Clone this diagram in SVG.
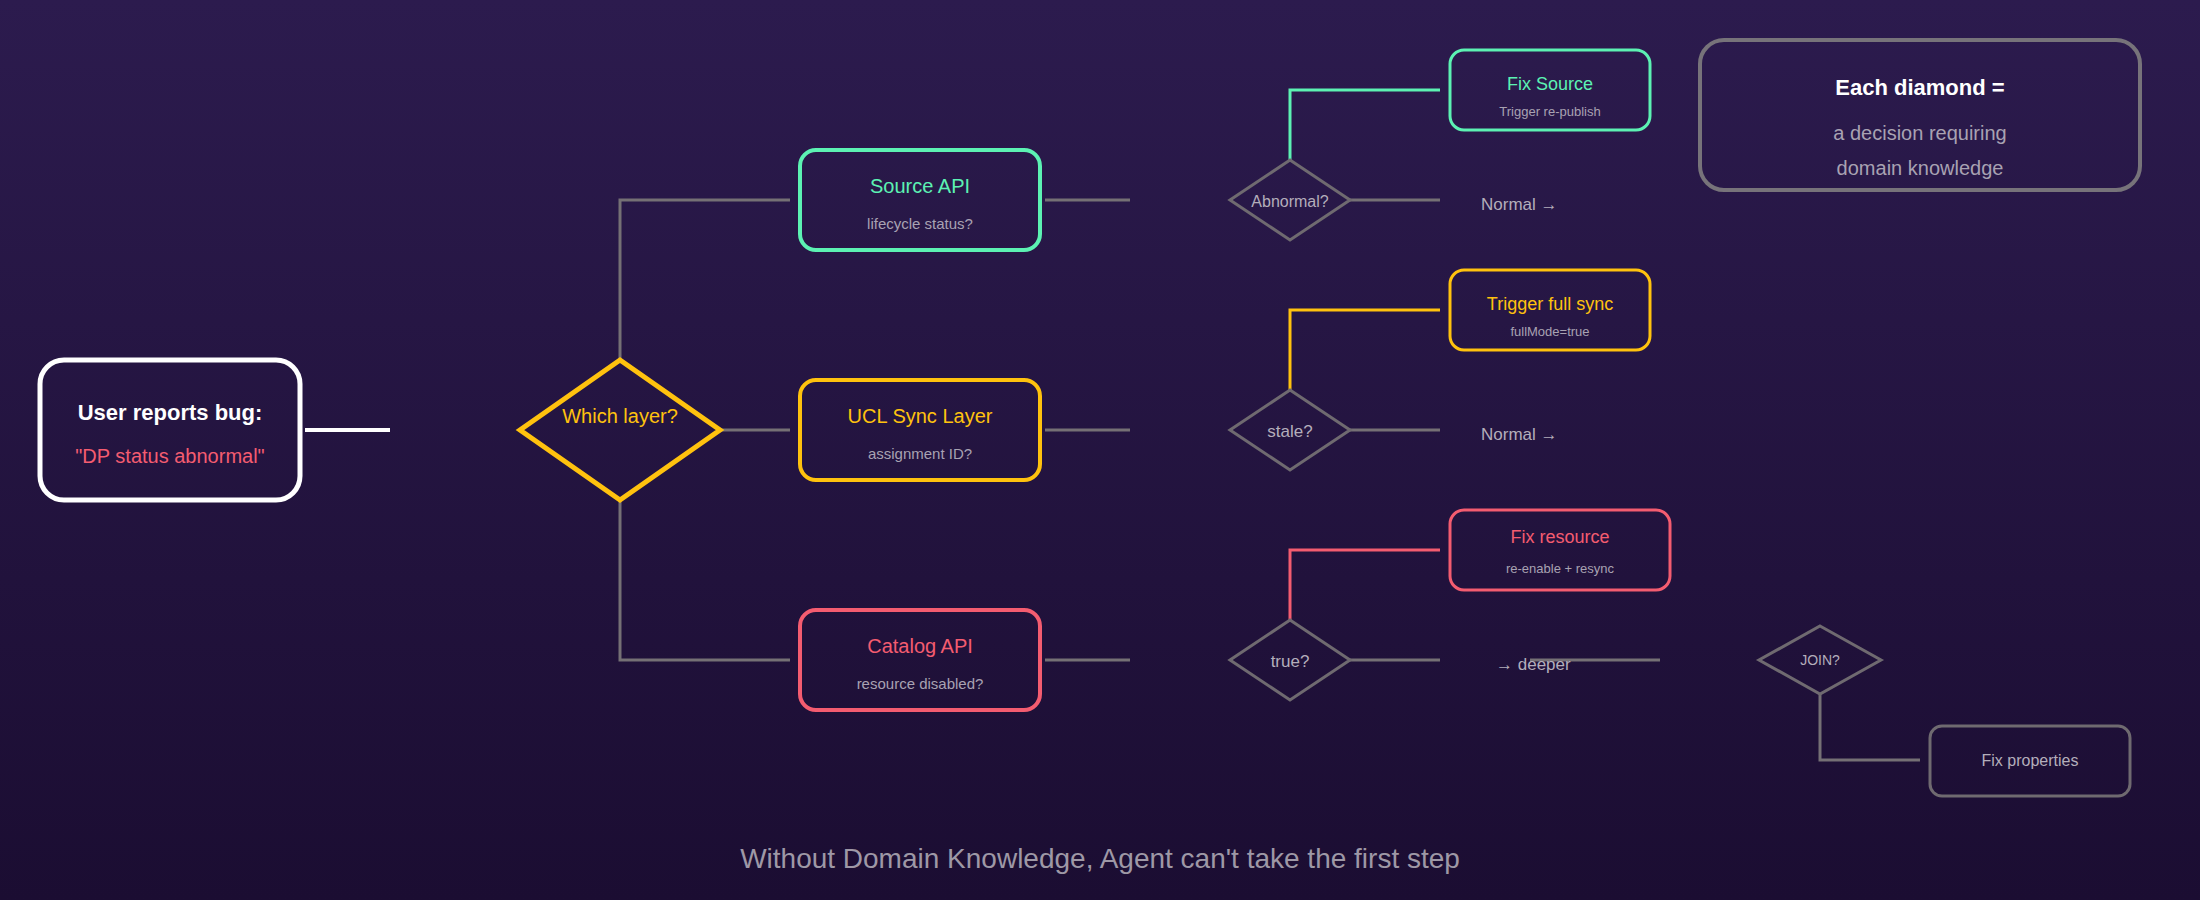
<svg xmlns="http://www.w3.org/2000/svg" width="2200" height="900" viewBox="0 0 2200 900">
<defs>
<linearGradient id="bg" x1="0" y1="0" x2="0" y2="1">
<stop offset="0" stop-color="#2c1b4e"/>
<stop offset="1" stop-color="#1b0d32"/>
</linearGradient>
<style>
text{font-family:"Liberation Sans",Arial,sans-serif;text-anchor:middle}
.box{fill:none;stroke-width:4}
.gl{fill:none;stroke:#757075;stroke-width:3}
.dia{fill:none;stroke:#6f6a70;stroke-width:3}
.sub{fill:#a8a2b2;font-size:15px}
.dt{fill:#b4aebb;font-size:17px}
.green{stroke:#5cf2b3}
.yellow{stroke:#ffc20e}
.red{stroke:#f45c70}
.tg{fill:#5cf2b3}
.ty{fill:#ffc20e}
.tr{fill:#f45c70}
</style>
</defs>
<rect width="2200" height="900" fill="url(#bg)"/>

<g id="connectors">
<line x1="305" y1="430" x2="390" y2="430" stroke="#ffffff" stroke-width="4"/>
<polyline class="gl" points="620,360 620,200 790,200"/>
<line class="gl" x1="720" y1="430" x2="790" y2="430"/>
<polyline class="gl" points="620,500 620,660 790,660"/>
<line class="gl" x1="1045" y1="200" x2="1130" y2="200"/>
<line class="gl" x1="1045" y1="430" x2="1130" y2="430"/>
<line class="gl" x1="1045" y1="660" x2="1130" y2="660"/>
<polyline fill="none" stroke="#5cf2b3" stroke-width="3" points="1290,160 1290,90 1440,90"/>
<polyline fill="none" stroke="#ffc20e" stroke-width="3" points="1290,390 1290,310 1440,310"/>
<polyline fill="none" stroke="#f45c70" stroke-width="3" points="1290,620 1290,550 1440,550"/>
<line class="gl" x1="1350" y1="200" x2="1440" y2="200"/>
<line class="gl" x1="1350" y1="430" x2="1440" y2="430"/>
<line class="gl" x1="1350" y1="660" x2="1440" y2="660"/>
<line class="gl" x1="1530" y1="660" x2="1660" y2="660"/>
<polyline class="gl" points="1820,694 1820,760 1920,760"/>
</g>

<g id="user">
<rect x="40" y="360" width="260" height="140" rx="24" fill="none" stroke="#ffffff" stroke-width="5"/>
<text x="170" y="420" fill="#ffffff" font-size="22" font-weight="bold">User reports bug:</text>
<text x="170" y="463" class="tr" font-size="20">"DP status abnormal"</text>
</g>

<g id="which-layer">
<polygon points="620,360 720,430 620,500 520,430" fill="none" stroke="#ffc20e" stroke-width="5"/>
<text x="620" y="423" class="ty" font-size="20">Which layer?</text>
</g>

<g id="source-api">
<rect x="800" y="150" width="240" height="100" rx="16" class="box green"/>
<text x="920" y="193" class="tg" font-size="20">Source API</text>
<text x="920" y="229" class="sub">lifecycle status?</text>
</g>

<g id="ucl-sync">
<rect x="800" y="380" width="240" height="100" rx="16" class="box yellow"/>
<text x="920" y="423" class="ty" font-size="20">UCL Sync Layer</text>
<text x="920" y="459" class="sub">assignment ID?</text>
</g>

<g id="catalog-api">
<rect x="800" y="610" width="240" height="100" rx="16" class="box red"/>
<text x="920" y="653" class="tr" font-size="20">Catalog API</text>
<text x="920" y="689" class="sub">resource disabled?</text>
</g>

<g id="abnormal">
<polygon class="dia" points="1290,160 1350,200 1290,240 1230,200"/>
<text x="1290" y="207" class="dt" style="font-size:16px">Abnormal?</text>
</g>
<g id="stale">
<polygon class="dia" points="1290,390 1350,430 1290,470 1230,430"/>
<text x="1290" y="437" class="dt">stale?</text>
</g>
<g id="true">
<polygon class="dia" points="1290,620 1350,660 1290,700 1230,660"/>
<text x="1290" y="667" class="dt">true?</text>
</g>

<g id="fix-source">
<rect x="1450" y="50" width="200" height="80" rx="14" fill="none" stroke="#5cf2b3" stroke-width="3"/>
<text x="1550" y="90" class="tg" font-size="18">Fix Source</text>
<text x="1550" y="116" class="sub" style="font-size:13px">Trigger re-publish</text>
</g>
<g id="trigger-full-sync">
<rect x="1450" y="270" width="200" height="80" rx="14" fill="none" stroke="#ffc20e" stroke-width="3"/>
<text x="1550" y="310" class="ty" font-size="18">Trigger full sync</text>
<text x="1550" y="336" class="sub" style="font-size:13px">fullMode=true</text>
</g>
<g id="fix-resource">
<rect x="1450" y="510" width="220" height="80" rx="14" fill="none" stroke="#f45c70" stroke-width="3"/>
<text x="1560" y="543" class="tr" font-size="18">Fix resource</text>
<text x="1560" y="573" class="sub" style="font-size:13px">re-enable + resync</text>
</g>

<g id="normal-1"><text x="1481" y="210" class="dt" style="text-anchor:start">Normal →</text></g>
<g id="normal-2"><text x="1481" y="440" class="dt" style="text-anchor:start">Normal →</text></g>
<g id="deeper"><text x="1496" y="670" class="dt" style="text-anchor:start">→ deeper</text></g>

<g id="join">
<polygon class="dia" points="1820,626 1881,660 1820,694 1759,660"/>
<text x="1820" y="665" class="dt" style="font-size:14px">JOIN?</text>
</g>
<g id="fix-properties">
<rect x="1930" y="726" width="200" height="70" rx="12" fill="none" stroke="#6f6a70" stroke-width="3"/>
<text x="2030" y="766" class="dt" style="font-size:16px">Fix properties</text>
</g>

<g id="legend">
<rect x="1700" y="40" width="440" height="150" rx="24" fill="none" stroke="#77737a" stroke-width="4"/>
<text x="1920" y="95" fill="#ffffff" font-size="22" font-weight="bold">Each diamond =</text>
<text x="1920" y="140" fill="#a8a2b2" font-size="20">a decision requiring</text>
<text x="1920" y="175" fill="#a8a2b2" font-size="20">domain knowledge</text>
</g>

<g id="footer">
<text x="1100" y="868" fill="#9e98a6" font-size="28">Without Domain Knowledge, Agent can't take the first step</text>
</g>
</svg>
